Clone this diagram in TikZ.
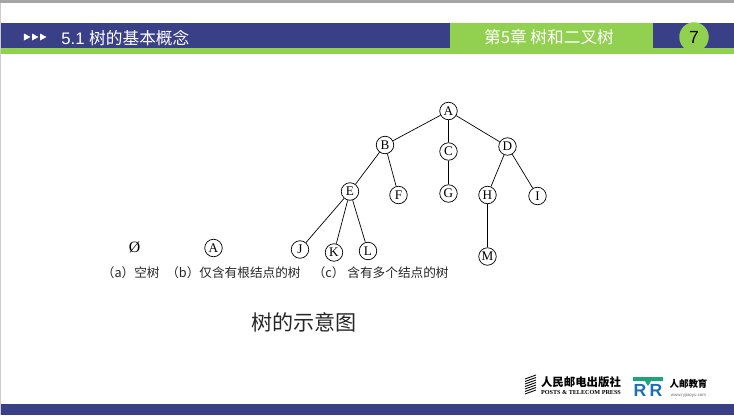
\documentclass[tikz,border=0pt]{standalone}
\usepackage{fontspec}
\setmainfont{Liberation Serif}
\setsansfont{Liberation Sans}
\newfontfamily\cjk{Noto Sans CJK SC}
\usepackage{tikz}
\definecolor{bandblue}{HTML}{3A4087}
\definecolor{bandgreen}{HTML}{92D050}
\definecolor{logoteal}{HTML}{1FA37F}
\definecolor{logoblue}{HTML}{1C6FB5}
\tikzset{
  treenode/.style={draw,circle,inner sep=0pt,minimum size=0.35cm,font=\fontsize{7.5}{8}\selectfont},
  caption/.style={inner sep=0pt,anchor=east,font=\cjk\fontsize{7.2}{8}\selectfont,text=black!85},
  headtext/.style={inner sep=0pt,text=white,font=\sffamily\cjk\fontsize{9.5}{11}\selectfont},
  logoletter/.style={inner sep=0pt,text=logoblue,font=\sffamily\bfseries\fontsize{10}{12}\selectfont}
}

\begin{document}
\begin{tikzpicture}
\useasboundingbox (0,0) rectangle (14.68,8.3);
%header bands
\fill[black!35] (0,8.24) rectangle (14.68,8.3);
\fill[black!20] (0,0) rectangle (0.02,8.24);
\fill[bandblue] (0.02,7.34) rectangle (14.68,7.84);
\fill[bandgreen] (0.02,7.22) rectangle (14.68,7.34);
\fill[bandgreen] (9,7.34) rectangle (13.06,7.84);
\fill[bandblue] (0.02,0) rectangle (14.68,0.22);
\foreach \i in {0,1,2}
  \fill[white] (0.48+0.16*\i,7.63) -- ++(0.13,-0.07) -- ++(-0.13,-0.07) -- cycle;
\node [headtext,anchor=west] (section) at(1.22,7.54){\sffamily 5.1 \cjk 树的基本概念};
\node [headtext] (chapter) at(10.98,7.56){第5章 树和二叉树};
\node [circle,fill=bandgreen,minimum size=0.59cm,inner sep=0pt] (page) at(13.88,7.56){\sffamily\fontsize{10}{11}\selectfont 7};

%tree (c)
\node [treenode] (A) at(8.97,6.08){A};
\node [treenode] (B) at(7.7,5.4){B};
\node [treenode] (C) at(8.97,5.27){C};
\node [treenode] (D) at(10.15,5.37){D};
\node [treenode] (E) at(7,4.47){E};
\node [treenode] (F) at(7.97,4.4){F};
\node [treenode] (G) at(8.97,4.43){G};
\node [treenode] (H) at(9.75,4.4){H};
\node [treenode] (I) at(10.75,4.38){I};
\node [treenode] (J) at(6,3.31){J};
\node [treenode] (K) at(6.68,3.25){K};
\node [treenode] (L) at(7.36,3.28){L};
\node [treenode] (M) at(9.75,3.17){M};

\draw (A) -- (B);
\draw (A) -- (C);
\draw (A) -- (D);
\draw (B) -- (E);
\draw (B) -- (F);
\draw (C) -- (G);
\draw (D) -- (H);
\draw (D) -- (I);
\draw (E) -- (J);
\draw (E) -- (K);
\draw (E) -- (L);
\draw (H) -- (M);

%trees (a) and (b)
\node [inner sep=0pt,font=\fontsize{9}{10}\selectfont] (empty) at(2.69,3.35){Ø};
\node [treenode] (root) at(4.27,3.34){A};

\node [caption] (capa) at(3.2,2.84){（a）空树};
\node [caption] (capb) at(6.02,2.84){（b）仅含有根结点的树};
\node [caption] (capc) at(8.98,2.84){（c）\ 含有多个结点的树};
\node [inner sep=0pt,font=\cjk\fontsize{12}{14}\selectfont,text=black!85] (title) at(6.08,1.86){树的示意图};

%publisher logos
\foreach \i in {0,...,6}
  \draw[line width=0.5pt] (10.5,0.42+0.05*\i) -- (10.72,0.5+0.05*\i);
\node [inner sep=0pt,font=\cjk\bfseries\fontsize{6.5}{7}\selectfont] (press) at(11.62,0.66){人民邮电出版社};
\node [inner sep=0pt,font=\bfseries\fontsize{3.5}{4}\selectfont] (pressen) at(11.62,0.46){POSTS \& TELECOM PRESS};
\fill[logoteal] (12.66,0.76) -- (13.26,0.76) -- (13.26,0.68) -- (13.02,0.68) -- (12.96,0.58) -- (12.9,0.68) -- (12.66,0.68) -- cycle;
\node [logoletter] (logoleft) at(12.8,0.5){R};
\node [logoletter] (logoright) at(13.12,0.5){R};
\node [inner sep=0pt,font=\cjk\bfseries\fontsize{5.4}{5.6}\selectfont] (edu) at(13.77,0.63){人邮教育};
\node [inner sep=0pt,text=black!60,font=\sffamily\fontsize{2.5}{3}\selectfont] (web) at(13.77,0.39){www.ryjiaoyu.com};
\end{tikzpicture}
\end{document}
